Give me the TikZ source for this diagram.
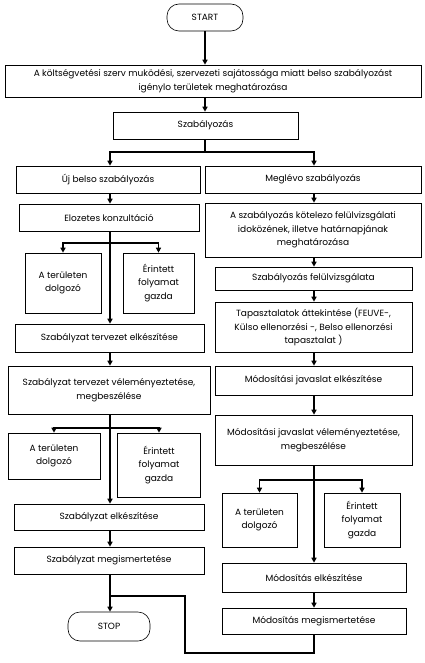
\documentclass[tikz,border=0pt]{standalone}
\usepackage{fontspec}
\setmainfont{Poppins}
\usetikzlibrary{arrows.meta}
\begin{document}
\begin{tikzpicture}[x=1pt,y=-1pt,
  box/.style={draw, line width=0.6pt, align=center, inner sep=1pt,
    font=\fontsize{9pt}{13.5pt}\selectfont},
  term/.style={box, rounded corners=12pt},
  conn/.style={line width=1.4pt},
  arr/.style={conn, -{Triangle[width=5pt,length=5pt]}}]
\useasboundingbox (0,0) rectangle (424,663);
% nodes
\node[term, minimum width=76pt, minimum height=27pt] (start) at (205,17.5) {START};
\node[box, minimum width=416pt, minimum height=32pt] (b1) at (213,81) {A költségvetési szerv muködési, szervezeti sajátossága miatt belso szabályozást\\igénylo területek meghatározása};
\node[box, minimum width=185pt, minimum height=27pt] (szab) at (205.5,125.5) {Szabályozás};
% left column
\node[box, minimum width=184pt, minimum height=27pt] (uj) at (108,179.5) {Új belso szabályozás};
\node[box, minimum width=180pt, minimum height=27pt] (elo) at (109,217.5) {Elozetes konzultáció};
\node[box, minimum width=76pt, minimum height=60pt] (ter1) at (63,283) {A területen\\dolgozó};
\node[box, minimum width=71pt, minimum height=60pt] (er1) at (158.5,283) {Érintett\\folyamat\\gazda};
\node[box, minimum width=189pt, minimum height=28pt] (tterv) at (109.5,338) {Szabályzat tervezet elkészítése};
\node[box, minimum width=202pt, minimum height=48pt] (vel) at (109,390) {Szabályzat tervezet véleményeztetése,\\megbeszélése};
\node[box, minimum width=92pt, minimum height=46pt] (ter2) at (54,456) {A területen\\dolgozó};
\node[box, minimum width=83pt, minimum height=64pt] (er2) at (159,465) {Érintett\\folyamat\\gazda};
\node[box, minimum width=190pt, minimum height=26pt] (selk) at (109,517) {Szabályzat elkészítése};
\node[box, minimum width=190pt, minimum height=27pt] (smeg) at (109,560.5) {Szabályzat megismertetése};
\node[term, minimum width=82pt, minimum height=29pt] (stop) at (109,626.5) {STOP};
% right column
\node[box, minimum width=216pt, minimum height=27pt] (megl) at (313,179.5) {Meglévo szabályozás};
\node[box, minimum width=216pt, minimum height=54pt] (kot) at (313,230) {A szabályozás kötelezo felülvizsgálati\\idoközének, illetve határnapjának\\meghatározása};
\node[box, minimum width=197pt, minimum height=23pt] (felul) at (313.5,278.5) {Szabályozás felülvizsgálata};
\node[box, minimum width=197pt, minimum height=50pt] (tap) at (313.5,327) {Tapasztalatok áttekintése (FEUVE-,\\Külso ellenorzési -, Belso ellenorzési\\tapasztalat )};
\node[box, minimum width=197pt, minimum height=29pt] (mje) at (313.5,380.5) {Módosítási javaslat elkészítése};
\node[box, minimum width=197pt, minimum height=50pt] (mjv) at (313.5,440) {Módosítási javaslat véleményeztetése,\\megbeszélése};
\node[box, minimum width=75pt, minimum height=54pt] (ter3) at (259.5,520) {A területen\\dolgozó};
\node[box, minimum width=76pt, minimum height=54pt] (er3) at (362,520) {Érintett\\folyamat\\gazda};
\node[box, minimum width=184pt, minimum height=29pt] (me) at (314,577.5) {Módosítás elkészítése};
\node[box, minimum width=184pt, minimum height=26pt] (mm) at (314,621) {Módosítás megismertetése};
% junction coordinates
\coordinate (L) at (110,0);
\coordinate (R) at (314,0);
\coordinate (C) at (205,0);
\coordinate (j0) at (205,152);
\coordinate (j1) at (110,243);
\coordinate (j2) at (110,428);
\coordinate (j3) at (314,480);
\coordinate (r2) at (185,653);
\coordinate (r4) at (110,596);
% connectors
\draw[arr] (start.south -| C) -- (b1.north -| C);
\draw[arr] (b1.south -| C) -- (szab.north -| C);
\draw[conn] (szab.south -| C) -- (j0);
\draw[arr] (j0) -| (uj.north -| L);
\draw[arr] (j0) -| (megl.north -| R);
% left
\draw[arr] (uj.south -| L) -- (elo.north -| L);
\draw[arr] (elo.south -| L) -- (tterv.north -| L);
\draw[arr] (j1) -| (ter1.north);
\draw[arr] (j1) -| (er1.north);
\draw[arr] (tterv.south -| L) -- (vel.north -| L);
\draw[arr] (vel.south -| L) -- (selk.north -| L);
\draw[arr] (j2) -| (ter2.north);
\draw[arr] (j2) -| (er2.north);
\draw[arr] (selk.south -| L) -- (smeg.north -| L);
\draw[arr] (smeg.south -| L) -- (stop.north -| L);
% right
\draw[arr] (megl.south -| R) -- (kot.north -| R);
\draw[arr] (kot.south -| R) -- (felul.north -| R);
\draw[arr] (felul.south -| R) -- (tap.north -| R);
\draw[arr] (tap.south -| R) -- (mje.north -| R);
\draw[arr] (mje.south -| R) -- (mjv.north -| R);
\draw[arr] (mjv.south -| R) -- (me.north -| R);
\draw[arr] (j3) -| (ter3.north);
\draw[arr] (j3) -| (er3.north);
\draw[arr] (me.south -| R) -- (mm.north -| R);
% return
\draw[conn] (mm.south -| R) |- (r2) |- (r4);
\end{tikzpicture}
\end{document}
